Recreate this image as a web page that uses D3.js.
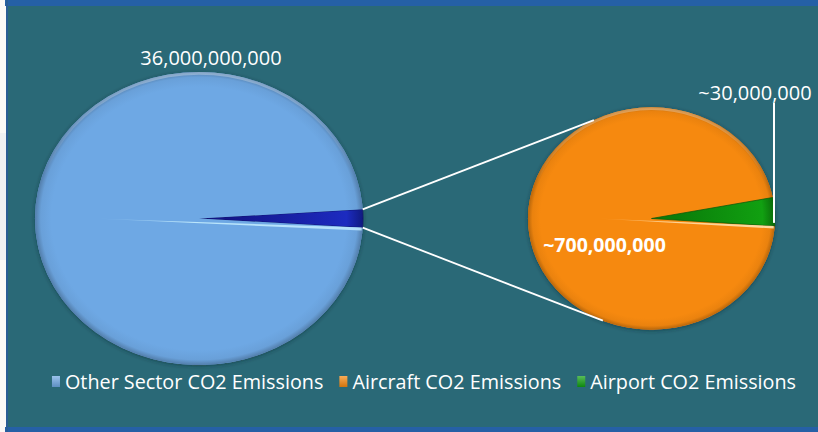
<!DOCTYPE html>
<html><head><meta charset="utf-8">
<script src="https://cdn.jsdelivr.net/npm/d3@7"></script>
<style>html,body{margin:0;padding:0;background:#fbf9f7;}svg{display:block;font-family:"Open Sans",sans-serif;}</style>
</head><body>
<svg id="c" width="818" height="432"></svg>
<script>
// ---- data ----
const categories = ["Other Sector CO2 Emissions", "Aircraft CO2 Emissions", "Airport CO2 Emissions"];
const values = [36000000000, 700000000, 30000000];
const valueLabels = ["36,000,000,000", "~700,000,000", "~30,000,000"];
const colors = ["#6ea8e4", "#f6890f", "#11a011"];
const groupColor = "#1c2bc0";

const svg = d3.select("#c");
const W = 818, H = 432;
const defs = svg.append("defs");

// frame
svg.append("rect").attr("x",0).attr("y",0).attr("width",8).attr("height",H).attr("fill","#fbf8f6");
svg.append("rect").attr("x",0).attr("y",133).attr("width",7).attr("height",127).attr("fill","#f0f0f3");
svg.append("rect").attr("x",8).attr("y",0).attr("width",W-8).attr("height",H).attr("fill","#2a6977");
svg.append("rect").attr("x",5).attr("y",0).attr("width",W-5).attr("height",6).attr("fill","#2560a6");
svg.append("rect").attr("x",5).attr("y",427).attr("width",W-5).attr("height",5).attr("fill","#2560a6");
svg.append("rect").attr("x",6).attr("y",0).attr("width",2).attr("height",H).attr("fill","#2a5c94");

function shade(c, k){ return d3.interpolateRgb(c, "#000")(k); }
function lighten(c, k){ return d3.interpolateRgb(c, "#fff")(k); }

function radialGrad(id, base, R){
  const g = defs.append("radialGradient").attr("id",id).attr("gradientUnits","userSpaceOnUse")
    .attr("cx",0).attr("cy",0).attr("r",R);
  g.append("stop").attr("offset",0).attr("stop-color",base);
  g.append("stop").attr("offset",0.9).attr("stop-color",base);
  g.append("stop").attr("offset",0.965).attr("stop-color",shade(base,0.05));
  g.append("stop").attr("offset",1).attr("stop-color",shade(base,0.25));
}
const shadow = defs.append("filter").attr("id","sh").attr("x","-20%").attr("y","-20%").attr("width","140%").attr("height","140%");
shadow.append("feDropShadow").attr("dx",0).attr("dy",1).attr("stdDeviation",2.2).attr("flood-color","#0a2830").attr("flood-opacity",0.55);

// rim highlight gradient (top light)
const rim = defs.append("linearGradient").attr("id","rim").attr("x1",0).attr("y1",0).attr("x2",0).attr("y2",1);
rim.append("stop").attr("offset",0).attr("stop-color","#fff").attr("stop-opacity",0.3);
rim.append("stop").attr("offset",0.35).attr("stop-color","#fff").attr("stop-opacity",0.0);
rim.append("stop").attr("offset",1).attr("stop-color","#fff").attr("stop-opacity",0.0);

// ---- pies ----
const big = {cx:199, cy:218.5, r:164, k:0.893};
const small = {cx:651.5, cy:218.5, r:123.5, k:0.9};

const restTotal = d3.sum(values.slice(1));
const bigData = [restTotal, values[0]];
const bigTotal = d3.sum(bigData);
const bigWedge = 2*Math.PI*restTotal/bigTotal;
const bigStart = Math.PI/2 - bigWedge/2;
const bigPie = d3.pie().sort(null).startAngle(bigStart).endAngle(bigStart+2*Math.PI)(bigData);
const bigArc = d3.arc().innerRadius(0).outerRadius(big.r);

radialGrad("gBlue", colors[0], big.r);
const nv = defs.append("radialGradient").attr("id","gNavy").attr("gradientUnits","userSpaceOnUse").attr("cx",0).attr("cy",0).attr("r",big.r);
nv.append("stop").attr("offset",0.2).attr("stop-color","#14168a");
nv.append("stop").attr("offset",0.9).attr("stop-color",groupColor);
nv.append("stop").attr("offset",1).attr("stop-color","#101a80");

const gb = svg.append("g").attr("transform",`translate(${big.cx},${big.cy}) scale(1,${big.k})`);
gb.append("ellipse").attr("rx",big.r).attr("ry",big.r).attr("fill",colors[0]).attr("filter","url(#sh)");
gb.selectAll("path.s").data(bigPie).join("path").attr("class","s")
  .attr("d",bigArc)
  .attr("fill",(d,i)=> i===0 ? "url(#gNavy)" : "url(#gBlue)")
  .attr("stroke",(d,i)=> i===0 ? "#0e1466" : "none").attr("stroke-width",0.8);
gb.append("circle").attr("r",big.r-1.5).attr("fill","none").attr("stroke","url(#rim)").attr("stroke-width",3);

function pt(p, a, rr){ return [p.cx + rr*Math.sin(a), p.cy - rr*Math.cos(a)*p.k]; }
const streak = defs.append("linearGradient").attr("id","streak").attr("x1",0).attr("x2",1).attr("y1",0).attr("y2",0);
streak.append("stop").attr("offset",0).attr("stop-color","#c8f0ff").attr("stop-opacity",0);
streak.append("stop").attr("offset",0.35).attr("stop-color","#c8f0ff").attr("stop-opacity",0.85);
streak.append("stop").attr("offset",1).attr("stop-color","#bfeaff").attr("stop-opacity",0.85);
{
  const e = pt(big, bigStart+bigWedge, big.r-1);
  svg.append("path").attr("d",`M${big.cx-105},${big.cy} L${e[0]},${e[1]} L${e[0]},${e[1]+3} Z`)
    .attr("fill","url(#streak)");
}

const smallData = values.slice(1);
const smallTotal = d3.sum(smallData);
const greenWedge = 2*Math.PI*smallData[1]/smallTotal;
const tilt = 3.5*Math.PI/180;
const gStart = Math.PI/2 - tilt - greenWedge/2;
const smallPie = d3.pie().sort(null).startAngle(gStart+greenWedge-2*Math.PI).endAngle(gStart+greenWedge)(smallData);
const smallArc = d3.arc().innerRadius(0).outerRadius(small.r);
radialGrad("gOrange", colors[1], small.r);
const gg = defs.append("radialGradient").attr("id","gGreen").attr("gradientUnits","userSpaceOnUse").attr("cx",0).attr("cy",0).attr("r",small.r);
gg.append("stop").attr("offset",0.2).attr("stop-color","#0a7d0a");
gg.append("stop").attr("offset",0.9).attr("stop-color",colors[2]);
gg.append("stop").attr("offset",1).attr("stop-color","#0a6a0a");

const gs = svg.append("g").attr("transform",`translate(${small.cx},${small.cy}) scale(1,${small.k})`);
gs.append("ellipse").attr("rx",small.r).attr("ry",small.r).attr("fill",colors[1]).attr("filter","url(#sh)");
gs.selectAll("path.s").data(smallPie).join("path").attr("class","s")
  .attr("d",smallArc)
  .attr("fill",(d,i)=> i===0 ? "url(#gOrange)" : "url(#gGreen)")
  .attr("stroke",(d,i)=> i===1 ? "#0b5a0b" : "none").attr("stroke-width",0.8);
gs.append("circle").attr("r",small.r-1.5).attr("fill","none").attr("stroke","url(#rim)").attr("stroke-width",3);
const streak2 = defs.append("linearGradient").attr("id","streak2").attr("x1",0).attr("x2",1).attr("y1",0).attr("y2",0);
streak2.append("stop").attr("offset",0).attr("stop-color","#ffd9a0").attr("stop-opacity",0);
streak2.append("stop").attr("offset",0.4).attr("stop-color","#ffd9a0").attr("stop-opacity",0.9);
streak2.append("stop").attr("offset",1).attr("stop-color","#ffe2b0").attr("stop-opacity",0.9);
{
  const e = pt(small, gStart+greenWedge, small.r-1);
  svg.append("path").attr("d",`M${small.cx-55},${small.cy} L${e[0]},${e[1]} L${e[0]},${e[1]+2.5} Z`)
    .attr("fill","url(#streak2)");
}

// connector lines
const cUp = [pt(big, bigStart, big.r), pt(small, -0.485, small.r)];
const cDn = [pt(big, bigStart+bigWedge, big.r), pt(small, 3.546, small.r)];
[cUp, cDn].forEach(c => svg.append("line")
  .attr("x1",c[0][0]).attr("y1",c[0][1]).attr("x2",c[1][0]).attr("y2",c[1][1])
  .attr("stroke","#fff").attr("stroke-width",1.8));

// labels
svg.append("text").attr("x",big.cx+12).attr("y",65).attr("text-anchor","middle")
  .attr("fill","#fff").attr("font-size",20).text(valueLabels[0]);
svg.append("text").attr("x",small.cx-47).attr("y",252).attr("text-anchor","middle")
  .attr("fill","#fff").attr("font-size",19.5).attr("font-weight","bold").text(valueLabels[1]);
svg.append("text").attr("x",755).attr("y",100).attr("text-anchor","middle")
  .attr("fill","#fff").attr("font-size",20).text(valueLabels[2]);
{
  const e = pt(small, gStart+greenWedge*0.75, small.r);
  svg.append("line").attr("x1",e[0]-1).attr("x2",e[0]-1).attr("y1",103).attr("y2",e[1]+4)
    .attr("stroke","#fff").attr("stroke-width",2);
}

// legend
const lg = svg.append("g").attr("transform","translate(0,389)");
const items = lg.selectAll("g").data(categories).join("g");
items.each(function(d,i){
  const g = d3.select(this);
  const gid = "lg"+i;
  const lgr = defs.append("linearGradient").attr("id",gid).attr("x1",0).attr("x2",0).attr("y1",0).attr("y2",1);
  lgr.append("stop").attr("offset",0).attr("stop-color",lighten(colors[i],0.3));
  lgr.append("stop").attr("offset",1).attr("stop-color",shade(colors[i],0.15));
  g.append("rect").attr("x",0).attr("y",-13).attr("width",8).attr("height",11).attr("fill",`url(#${gid})`);
  g.append("text").attr("x",13).attr("y",0).attr("fill","#fff").attr("font-size",19.8).text(d);
});
let xs = [], x = 0;
items.each(function(){ const w = this.getBBox().width; xs.push(x); x += w + 16; });
const totalW = x - 16;
const x0 = 424 - totalW/2;
items.attr("transform",(d,i)=>`translate(${x0+xs[i]},0)`);
</script>
</body></html>
